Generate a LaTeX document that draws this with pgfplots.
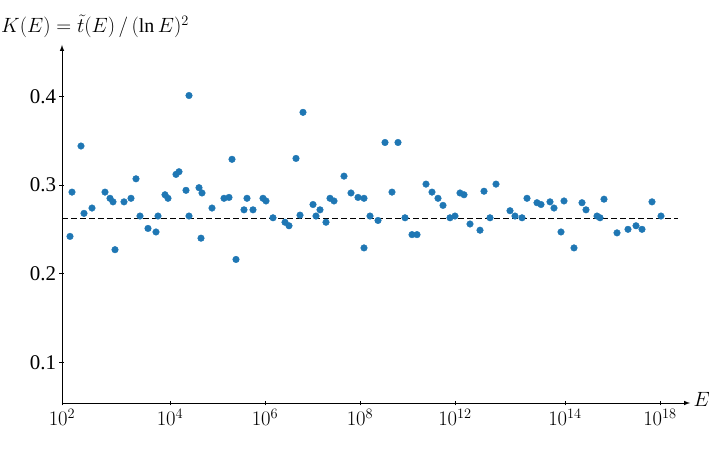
\documentclass[border=0pt]{standalone}
\usepackage{pgfplots}
\pgfplotsset{compat=1.18}
\usepackage{fontspec}
\setmainfont{Liberation Serif}
\begin{document}
\begin{tikzpicture}
\useasboundingbox (-62bp,-48bp) rectangle (650bp,403bp);
\begin{axis}[at={(0,0)},anchor=south west,scale only axis,
 width=628bp,height=358bp,
 xmin=62,xmax=690,ymin=0.054,ymax=0.458,
 axis x line=bottom,axis y line=left,
 axis line style={-latex,line width=1pt},
 xtick={62,170,265,360,455,565,660},
 xticklabels={$10^{2}$,$10^{4}$,$10^{6}$,$10^{8}$,$10^{12}$,$10^{14}$,$10^{18}$},
 ytick={0.1,0.2,0.3,0.4},
 yticklabels={0.1,0.2,0.3,0.4},
 tick style={line width=1pt,black},major tick length=5bp,
 tick label style={font=\fontsize{21}{21}\selectfont},
 clip=false]
\addplot[only marks,mark=*,mark size=3.3bp,color={rgb,255:red,31;green,119;blue,180}] coordinates {
(70,0.242)(72,0.292)(81,0.344)(84,0.268)(92,0.274)(105,0.292)(110,0.285)(113,0.281)(115,0.227)(124,0.281)(131,0.285)(136,0.307)(140,0.265)(148,0.251)(156,0.247)(158,0.265)(165,0.289)(168,0.285)(176,0.312)(179,0.315)(186,0.294)(189,0.401)(189,0.265)(199,0.297)(202,0.291)(201,0.240)(212,0.274)(224,0.285)(229,0.286)(232,0.329)(236,0.216)(244,0.272)(247,0.285)(253,0.272)(263,0.285)(266,0.282)(273,0.263)(285,0.258)(289,0.254)(296,0.330)(300,0.266)(303,0.382)(313,0.278)(316,0.265)(320,0.272)(326,0.258)(330,0.285)(334,0.282)(344,0.310)(351,0.291)(358,0.286)(364,0.229)(364,0.285)(370,0.265)(378,0.260)(385,0.348)(392,0.292)(398,0.348)(405,0.263)(412,0.244)(417,0.244)(426,0.301)(432,0.292)(438,0.285)(443,0.277)(450,0.263)(455,0.265)(460,0.291)(464,0.289)(470,0.256)(480,0.249)(484,0.293)(490,0.263)(496,0.301)(510,0.271)(515,0.265)(522,0.263)(527,0.285)(537,0.280)(541,0.278)(550,0.281)(554,0.274)(561,0.247)(564,0.282)(574,0.229)(582,0.280)(586,0.272)(597,0.265)(600,0.263)(604,0.284)(617,0.246)(628,0.250)(636,0.254)(642,0.250)(652,0.281)(661,0.265)
};
\addplot[black,line width=1pt,dash pattern=on 6bp off 3bp] coordinates {(62,0.262)(678,0.262)};
\node[anchor=south west,font=\fontsize{20}{20}\selectfont,inner sep=1bp] at (axis cs:62,0.458) [xshift=-62bp,yshift=6bp] {$K(E)=\tilde{t}(E)\,/\,(\ln E)^2$};
\node[anchor=west,font=\fontsize{20}{20}\selectfont] at (axis cs:690,0.054) [yshift=4bp] {$E$};
\end{axis}
\end{tikzpicture}
\end{document}
